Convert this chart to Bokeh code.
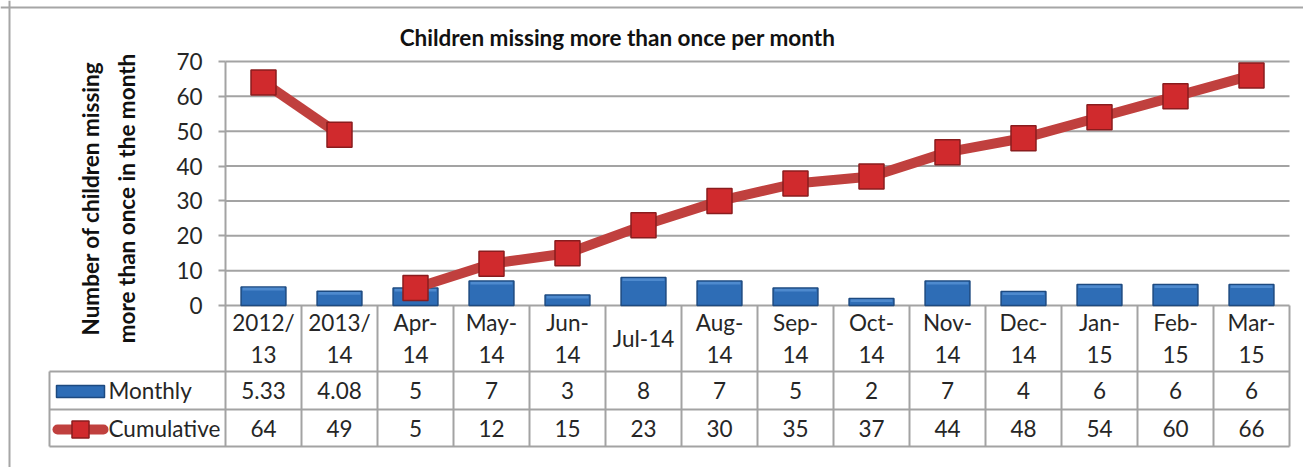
import math
from bokeh.plotting import figure
from bokeh.models import Range1d, FixedTicker, Span
from bokeh.core.properties import value
from bokeh.embed import file_html
from bokeh.resources import INLINE

# ---------------- data ----------------
categories = ["2012/13", "2013/14", "Apr-14", "May-14", "Jun-14", "Jul-14", "Aug-14",
              "Sep-14", "Oct-14", "Nov-14", "Dec-14", "Jan-15", "Feb-15", "Mar-15"]
tick_labels = ["2012/\n13", "2013/\n14", "Apr-\n14", "May-\n14", "Jun-\n14", "Jul-14", "Aug-\n14",
               "Sep-\n14", "Oct-\n14", "Nov-\n14", "Dec-\n14", "Jan-\n15", "Feb-\n15", "Mar-\n15"]
monthly = [5.33, 4.08, 5, 7, 3, 8, 7, 5, 2, 7, 4, 6, 6, 6]
cumulative = [64, 49, 5, 12, 15, 23, 30, 35, 37, 44, 48, 54, 60, 66]
y_ticks = [0, 10, 20, 30, 40, 50, 60, 70]
series_names = ["Monthly", "Cumulative"]
title_text = "Children missing more than once per month"
y_label = "Number of children missing\nmore than once in the month"

# ---------------- layout (pixels, relative to the figure) ----------------
W, H = 1303, 467
AXIS_X = 225.0
CAT_PX = 76.0
ZERO_Y = 305.0
TOP_Y = 61.0
PPU = (ZERO_Y - TOP_Y) / y_ticks[-1]


def X(px):
    return (px - AXIS_X) / CAT_PX


def Y(py):
    return (ZERO_Y - py) / PPU


FONT = value("Lato")
FS = "22.5px"
TXT = "#262626"
GRID = "#a3a3a3"
BLUE = "#2e6db6"
BLUE_LIGHT = "#6aa3e2"
BLUE_EDGE = "#1d4a80"
RED_LINE = "#c0403e"
RED_MARK = "#d02a2d"
RED_EDGE = "#8a1c1e"

p = figure(width=W, height=H, x_range=Range1d(X(0), X(W)),
           y_range=Range1d(Y(H), Y(0)),
           output_backend="svg", toolbar_location=None, min_border=0,
           background_fill_color="white", border_fill_color="white")
p.outline_line_color = None
p.grid.visible = False
p.xaxis.visible = False

n = len(categories)
xc = [i + 0.5 for i in range(n)]
table_bottom = Y(446)
row1 = Y(371)
row2 = Y(409)

# y axis at x = 0 (its line continues as the table's column line)
ya = p.yaxis[0]
ya.fixed_location = 0
ya.ticker = FixedTicker(ticks=y_ticks)
ya.bounds = (table_bottom, y_ticks[-1])
ya.major_tick_out = 7
ya.major_tick_in = 0
ya.minor_tick_line_color = None
ya.major_tick_line_color = GRID
ya.major_tick_line_width = 2
ya.axis_line_color = GRID
ya.axis_line_width = 2
ya.major_label_standoff = 16
ya.major_label_text_font = "Lato"
ya.major_label_text_font_size = FS
ya.major_label_text_color = TXT

# gridlines
p.segment(x0=[0] * len(y_ticks), x1=[n] * len(y_ticks), y0=y_ticks, y1=y_ticks,
          line_color=GRID, line_width=2)

# table lines
hy = [row1, row2, table_bottom]
p.segment(x0=[X(49)] * 3, x1=[n] * 3, y0=hy, y1=hy, line_color=GRID, line_width=2)
vx = list(range(1, n + 1))
p.segment(x0=vx, x1=vx, y0=[0] * n, y1=[table_bottom] * n, line_color=GRID, line_width=2)
p.segment(x0=[X(49)], x1=[X(49)], y0=[row1], y1=[table_bottom], line_color=GRID, line_width=2)

# bars with a soft bevel at the top
p.vbar(x=xc, top=monthly, bottom=0, width=0.59, fill_color=BLUE, line_color=BLUE_EDGE,
       line_width=1.5)
p.vbar(x=xc, top=[v - 0.2 for v in monthly], bottom=[v - 1.0 for v in monthly], width=0.55,
       fill_color=BLUE_LIGHT, line_color=None, fill_alpha=0.55)

# cumulative line (gap between 2013/14 and Apr-14)
p.line(xc[:2], cumulative[:2], line_color=RED_LINE, line_width=10)
p.line(xc[2:], cumulative[2:], line_color=RED_LINE, line_width=10, line_join="round")
p.scatter(xc, cumulative, marker="square", size=25, fill_color=RED_MARK,
          line_color=RED_EDGE, line_width=1.5)

# table text
p.text(x=xc, y=[Y(338)] * n, text=tick_labels, text_font=FONT, text_font_size=FS,
       text_color=TXT, text_align="center", text_baseline="middle", text_line_height=1.2)
p.text(x=xc, y=[Y(390)] * n, text=[f"{v:g}" for v in monthly], text_font=FONT,
       text_font_size=FS, text_color=TXT, text_align="center", text_baseline="middle")
p.text(x=xc, y=[Y(427.5)] * n, text=[f"{v:g}" for v in cumulative], text_font=FONT,
       text_font_size=FS, text_color=TXT, text_align="center", text_baseline="middle")

# legend keys inside the table
p.rect(x=[X(80)], y=[Y(391)], width=48, height=12, width_units="screen", height_units="screen",
       fill_color=BLUE, line_color=BLUE_EDGE, line_width=1.5)
p.segment(x0=[X(57)], x1=[X(103)], y0=[Y(429)], y1=[Y(429)], line_color=RED_LINE,
          line_width=10, line_cap="round")
p.scatter(x=[X(80)], y=[Y(429)], marker="square", size=17, fill_color=RED_MARK,
          line_color=RED_EDGE, line_width=1.5)
p.text(x=[X(108)] * 2, y=[Y(390), Y(427.5)], text=series_names, text_font=FONT,
       text_font_size=FS, text_color=TXT, text_align="left", text_baseline="middle")

# title and axis label
p.text(x=[X(617)], y=[Y(37)], text=[title_text], text_font=FONT, text_font_size=FS,
       text_font_style="bold", text_color="#111111", text_align="center", text_baseline="middle")
p.text(x=[X(108)], y=[Y(198)], text=[y_label], angle=math.pi / 2, text_font=FONT,
       text_font_size=FS, text_font_style="bold", text_color="#111111",
       text_align="center", text_baseline="middle", text_line_height=1.33)

# chart border (left and top edges visible)
p.add_layout(Span(location=X(9), dimension="height", line_color="#a6a6a6", line_width=2))
p.add_layout(Span(location=Y(7), dimension="width", line_color="#a6a6a6", line_width=2))

open("out.html", "w").write(file_html(p, INLINE))
